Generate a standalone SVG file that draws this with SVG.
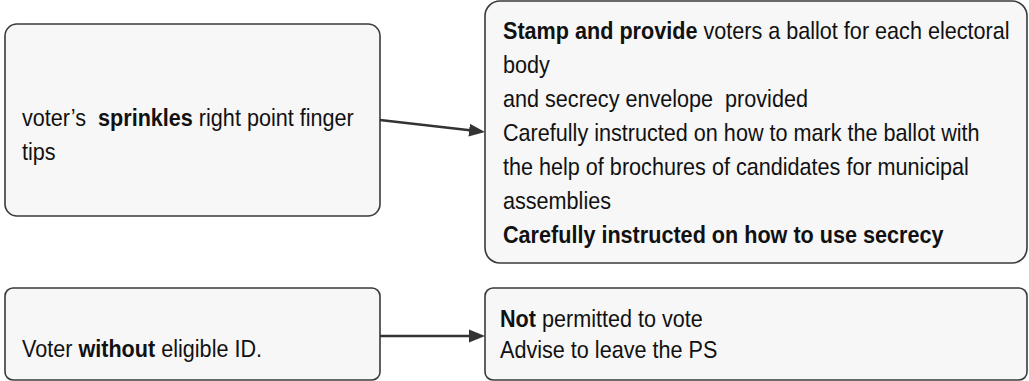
<svg xmlns="http://www.w3.org/2000/svg" width="1029" height="381" viewBox="0 0 1029 381">
<style>
.box{fill:#f7f7f7;stroke:#3a3a3a;stroke-width:1.6}
text{font-family:"Liberation Sans Narrow","Arial Narrow","Liberation Sans",sans-serif;font-size:24px;fill:#111;white-space:pre}
.b{font-weight:bold}
.conn{stroke:#333;stroke-width:2.5;fill:none}
</style>
<defs>
<marker id="arr" markerWidth="16" markerHeight="14" refX="3" refY="7" orient="auto" markerUnits="userSpaceOnUse" viewBox="0 0 16 14">
<path d="M0,0.5 L16,7 L0,13.5 z" fill="#333"/>
</marker>
</defs>
<rect width="1029" height="381" fill="#fff"/>
<g id="node-sprinkles">
<rect class="box" x="5" y="24" width="375" height="192" rx="12"/>
<g transform="translate(22 0) scale(0.9 1)">
<text x="0" y="126">voter’s  <tspan class="b">sprinkles</tspan> right point finger</text>
<text x="0" y="160">tips</text>
</g>
</g>
<g id="node-stamp">
<rect class="box" x="485" y="1" width="542" height="262" rx="15"/>
<g transform="translate(503 0) scale(0.9 1)">
<text x="0" y="39"><tspan class="b">Stamp and provide</tspan> voters a ballot for each electoral</text>
<text x="0" y="73">body</text>
<text x="0" y="107">and secrecy envelope  provided</text>
<text x="0" y="141">Carefully instructed on how to mark the ballot with</text>
<text x="0" y="175">the help of brochures of candidates for municipal</text>
<text x="0" y="209">assemblies</text>
<text x="0" y="243" class="b">Carefully instructed on how to use secrecy</text>
</g>
</g>
<g id="node-noid">
<rect class="box" x="5" y="288" width="375" height="92" rx="8"/>
<g transform="translate(22 0) scale(0.9 1)">
<text x="0" y="357">Voter <tspan class="b">without</tspan> eligible ID.</text>
</g>
</g>
<g id="node-notpermitted">
<rect class="box" x="485" y="288" width="542" height="92" rx="8"/>
<g transform="translate(500 0) scale(0.9 1)">
<text x="0" y="327"><tspan class="b">Not</tspan> permitted to vote</text>
<text x="0" y="358">Advise to leave the PS</text>
</g>
</g>
<g id="connectors">
<line class="conn" x1="380" y1="120" x2="472.1" y2="130.5" marker-end="url(#arr)"/>
<line class="conn" x1="380" y1="336" x2="472" y2="336" marker-end="url(#arr)"/>
</g>
</svg>
